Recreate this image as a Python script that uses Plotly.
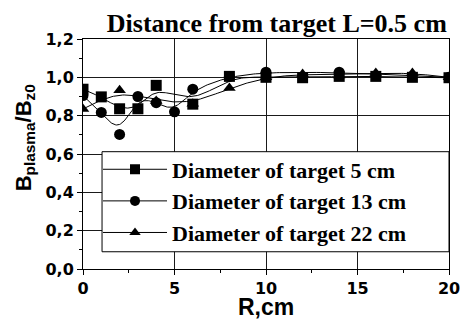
import numpy as np
import plotly.graph_objects as go

# ---- data ----
sq_x = [0, 1, 2, 3, 4, 6, 8, 10, 12, 14, 16, 18, 20]
sq_y = [0.938, 0.898, 0.836, 0.836, 0.958, 0.860, 1.005, 1.000, 0.998, 1.005, 1.005, 1.000, 0.998]

ci_x = [0, 1, 2, 3, 4, 5, 6, 8, 10, 14, 20]
ci_y = [0.905, 0.817, 0.702, 0.900, 0.868, 0.820, 0.938, 1.005, 1.027, 1.027, 1.000]

tr_x = [0, 2, 4, 6, 8, 10, 12, 14, 16, 18, 20]
tr_y = [0.835, 0.932, 0.876, 0.862, 0.945, 1.000, 1.017, 1.010, 1.022, 1.022, 1.000]

names = ["Diameter of target 5 cm", "Diameter of target 13 cm", "Diameter of target 22 cm"]
symbols = ["square", "circle", "triangle-up"]
y_ticks = [0.0, 0.2, 0.4, 0.6, 0.8, 1.0, 1.2]
x_ticks = [0, 5, 10, 15, 20]


def bspline(xs, ys, n=24):
    """Clamped uniform cubic B-spline using the data points as control points."""
    px = np.array([xs[0]] * 2 + list(xs) + [xs[-1]] * 2, dtype=float)
    py = np.array([ys[0]] * 2 + list(ys) + [ys[-1]] * 2, dtype=float)
    t = np.linspace(0, 1, n, endpoint=False)
    b0 = (1 - t) ** 3 / 6
    b1 = (3 * t ** 3 - 6 * t ** 2 + 4) / 6
    b2 = (-3 * t ** 3 + 3 * t ** 2 + 3 * t + 1) / 6
    b3 = t ** 3 / 6
    cx, cy = [], []
    for i in range(len(px) - 3):
        cx.extend(b0 * px[i] + b1 * px[i + 1] + b2 * px[i + 2] + b3 * px[i + 3])
        cy.extend(b0 * py[i] + b1 * py[i + 1] + b2 * py[i + 2] + b3 * py[i + 3])
    cx.append(xs[-1])
    cy.append(ys[-1])
    return cx, cy


fig = go.Figure()
series = [(sq_x, sq_y), (ci_x, ci_y), (tr_x, tr_y)]
for (xs, ys), sym in zip(series, symbols):
    cx, cy = bspline(xs, ys)
    fig.add_trace(go.Scatter(x=cx, y=cy, mode="lines", line=dict(color="black", width=1),
                             showlegend=False, hoverinfo="skip"))
for (xs, ys), sym in zip(series, symbols):
    fig.add_trace(go.Scatter(x=xs, y=ys, mode="markers",
                             marker=dict(symbol=sym, size=11, color="black"),
                             showlegend=False))
# legend entries
for nm, sym in zip(names, symbols):
    fig.add_trace(go.Scatter(x=[None], y=[None], mode="lines+markers", name=nm,
                             line=dict(color="black", width=1),
                             marker=dict(symbol=sym, size=10, color="black")))

tick_font = dict(family="DejaVu Sans", size=16, color="black", weight="bold")
axis_common = dict(showline=True, linecolor="black", linewidth=1, mirror=True,
                   ticks="outside", ticklen=5, tickcolor="black", tickwidth=1,
                   showgrid=True, gridcolor="#1a1a1a", gridwidth=1, zeroline=False,
                   tickfont=tick_font, automargin=False)

fig.update_xaxes(range=[0, 20], tickvals=x_ticks, ticktext=[str(v) for v in x_ticks],
                 minor=dict(dtick=2.5, ticks="outside", ticklen=3, tickcolor="black", showgrid=False),
                 **axis_common)
fig.update_yaxes(range=[0, 1.2], tickvals=y_ticks, tickformat=".1f",
                 minor=dict(dtick=0.1, ticks="outside", ticklen=3, tickcolor="black", showgrid=False),
                 **axis_common)

# legend box
fig.add_shape(type="rect", xref="paper", yref="paper", x0=0.052, x1=1.0, y0=0.075, y1=0.51,
              line=dict(color="black", width=1), fillcolor="white", layer="above")

# axis titles
fig.add_annotation(text="B<sub>plasma</sub>/B<sub>z0</sub>", textangle=-90, showarrow=False,
                   xref="paper", yref="paper", x=-0.16, y=0.57, xanchor="center", yanchor="middle",
                   font=dict(family="Liberation Sans", size=22, color="black", weight="bold"))
fig.add_annotation(text="R,cm", showarrow=False, xref="paper", yref="paper",
                   x=0.5, y=-0.2304, xanchor="center", yanchor="bottom",
                   font=dict(family="Liberation Sans", size=23, color="black", weight="bold"))

fig.update_layout(
    width=470, height=322,
    margin=dict(l=83, r=21, t=39, b=53),
    paper_bgcolor="white", plot_bgcolor="white",
    separators=",.",
    title=dict(text="Distance from target L=0.5 cm", x=0.589, xanchor="center",
               y=0.93, yanchor="middle",
               font=dict(family="Liberation Serif", size=26, color="black", weight="bold")),
    legend=dict(x=0.041, y=0.524, xanchor="left", yanchor="top", bgcolor="rgba(0,0,0,0)",
                borderwidth=0, itemwidth=64, tracegroupgap=0,
                font=dict(family="Liberation Serif", size=22, color="black", weight="bold")),
    showlegend=True,
)

fig.write_html("out.html", config={"displayModeBar": False},
               post_script="document.body.style.margin='0';document.body.style.padding='0';")
